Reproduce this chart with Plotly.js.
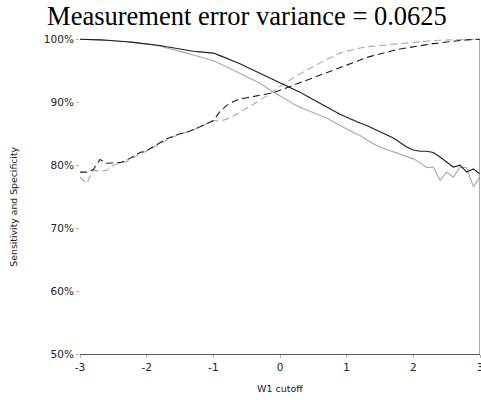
<!DOCTYPE html>
<html>
<head>
<meta charset="utf-8">
<script src="https://cdn.plot.ly/plotly-3.0.1.min.js"></script>
<style>
  html, body { margin: 0; padding: 0; background: #fff; }
  #chart { width: 481px; height: 400px; }
</style>
</head>
<body>
<div id="chart"></div>
<script>
// W1 cutoff grid (step 0.1 from -3 to 3)
const cutoff = [
  -3.0, -2.9, -2.8, -2.7, -2.6, -2.5, -2.4, -2.3, -2.2, -2.1,
  -2.0, -1.9, -1.8, -1.7, -1.6, -1.5, -1.4, -1.3, -1.2, -1.1,
  -1.0, -0.9, -0.8, -0.7, -0.6, -0.5, -0.4, -0.3, -0.2, -0.1,
   0.0,  0.1,  0.2,  0.3,  0.4,  0.5,  0.6,  0.7,  0.8,  0.9,
   1.0,  1.1,  1.2,  1.3,  1.4,  1.5,  1.6,  1.7,  1.8,  1.9,
   2.0,  2.1,  2.2,  2.3,  2.4,  2.5,  2.6,  2.7,  2.8,  2.9,
   3.0
];

// Sensitivity, black solid (percent)
const sensBlack = [
  100.0, 100.0, 99.95, 99.9, 99.85, 99.8, 99.7, 99.6, 99.5, 99.4,
  99.3, 99.15, 99.0, 98.8, 98.6, 98.45, 98.3, 98.1, 98.0, 97.9,
  97.8, 97.4, 97.0, 96.5, 96.1, 95.6, 95.1, 94.6, 94.1, 93.6,
  93.2, 92.7, 92.2, 91.6, 91.0, 90.4, 89.9, 89.3, 88.7, 88.1,
  87.6, 87.1, 86.7, 86.3, 85.8, 85.3, 84.8, 84.3, 83.6, 82.9,
  82.4, 82.2, 82.2, 82.0, 81.3, 80.5, 79.7, 80.0, 78.9, 79.4,
  78.6
];

// Sensitivity, grey solid (percent)
const sensGrey = [
  100.0, 100.0, 99.95, 99.9, 99.85, 99.8, 99.7, 99.6, 99.5, 99.4,
  99.3, 99.1, 98.9, 98.65, 98.4, 98.1, 97.8, 97.5, 97.2, 96.9,
  96.6, 96.1, 95.6, 95.1, 94.6, 94.1, 93.6, 93.0, 92.3, 91.6,
  91.0, 90.4, 89.7, 89.2, 88.8, 88.4, 88.0, 87.5, 86.9, 86.3,
  85.7, 85.2, 84.7, 84.0, 83.4, 82.9, 82.5, 82.1, 81.7, 81.4,
  81.0, 80.4, 79.6, 79.7, 77.6, 78.9, 78.1, 79.7, 79.6, 76.6,
  78.1
];

// Specificity, black dashed (percent)
const specBlack = [
  78.9, 78.9, 79.3, 80.9, 80.3, 80.3, 80.4, 80.8, 81.4, 82.0,
  82.3, 82.9, 83.6, 84.2, 84.6, 85.0, 85.2, 85.6, 86.1, 86.6,
  87.1, 88.5, 89.5, 90.1, 90.5, 90.7, 90.9, 91.0, 91.2, 91.5,
  91.9, 92.3, 92.7, 93.1, 93.5, 94.0, 94.4, 94.8, 95.2, 95.6,
  96.0, 96.4, 96.8, 97.1, 97.4, 97.7, 97.95, 98.2, 98.45, 98.65,
  98.85, 99.0, 99.15, 99.3, 99.45, 99.6, 99.7, 99.8, 99.9, 99.95,
  100.0
];

// Specificity, grey dashed (percent)
const specGrey = [
  78.1, 77.1, 79.2, 79.0, 79.2, 80.0, 80.3, 80.6, 81.2, 81.7,
  82.2, 82.8, 83.4, 84.0, 84.5, 84.9, 85.2, 85.6, 86.1, 86.6,
  87.1, 87.0, 87.3, 87.8, 88.4, 89.0, 89.6, 90.3, 91.0, 91.8,
  92.5, 93.2, 93.9, 94.5, 95.1, 95.7, 96.2, 96.8, 97.3, 97.8,
  98.1, 98.4, 98.6, 98.8, 98.9, 99.0, 99.15, 99.3, 99.4, 99.5,
  99.6, 99.7, 99.75, 99.8, 99.85, 99.9, 99.92, 99.95, 99.97, 99.98,
  100.0
];

const yTickVals = [0.5, 0.6, 0.7, 0.8, 0.9, 1.0];
const xTickVals = [-3, -2, -1, 0, 1, 2, 3];

const toFrac = arr => arr.map(v => v / 100);

const dashPattern = '7px,4px';
const traces = [
  { y: sensGrey,  color: '#a8a8a8', dash: 'solid' },
  { y: specGrey,  color: '#a8a8a8', dash: dashPattern },
  { y: sensBlack, color: '#1e1e1e', dash: 'solid' },
  { y: specBlack, color: '#1e1e1e', dash: dashPattern }
].map(s => ({
  type: 'scatter',
  mode: 'lines',
  x: cutoff,
  y: toFrac(s.y),
  line: { color: s.color, width: 1.1, dash: s.dash },
  hoverinfo: 'skip',
  showlegend: false
}));

const layout = {
  width: 481,
  height: 400,
  margin: { l: 80, r: 1, t: 38, b: 46 },
  paper_bgcolor: '#ffffff',
  plot_bgcolor: '#ffffff',
  font: { family: 'DejaVu Sans, sans-serif', color: '#222' },
  title: {
    text: 'Measurement error variance = 0.0625',
    font: { family: 'Liberation Serif, Times New Roman, serif', size: 26.5, color: '#000' },
    x: 0.5135,
    xanchor: 'center',
    xref: 'container',
    y: 0.96,
    yanchor: 'middle',
    yref: 'container'
  },
  xaxis: {
    range: [-3, 3],
    tickvals: xTickVals,
    ticktext: xTickVals.map(String),
    ticklabeloverflow: 'allow',
    showgrid: false,
    zeroline: false,
    showline: true,
    linecolor: '#5a5a5a',
    linewidth: 1,
    ticks: 'outside',
    ticklen: 3,
    tickcolor: '#b0b0b0',
    tickfont: { size: 10.5, color: '#222' },
    title: { text: 'W1 cutoff', font: { size: 9.5, color: '#222' }, standoff: 13 }
  },
  yaxis: {
    range: [0.5, 1.002],
    tickvals: yTickVals,
    tickformat: '.0%',
    showgrid: false,
    zeroline: false,
    showline: false,
    ticks: 'outside',
    ticklen: 3,
    tickcolor: '#b0b0b0',
    tickfont: { size: 10.5, color: '#222' }
  },
  annotations: [{
    text: 'Sensitivity and Specificity',
    textangle: -90,
    xref: 'paper', yref: 'paper',
    x: -0.167, y: 0.467,
    xanchor: 'center', yanchor: 'middle',
    showarrow: false,
    font: { size: 9.3, color: '#222' }
  }],
  shapes: [{
    type: 'line',
    xref: 'x', yref: 'y',
    x0: 3, x1: 3, y0: 0.5, y1: 1.0,
    line: { color: '#5a5a5a', width: 1 }
  }]
};

Plotly.newPlot('chart', traces, layout, { staticPlot: true, displayModeBar: false });
</script>
</body>
</html>
